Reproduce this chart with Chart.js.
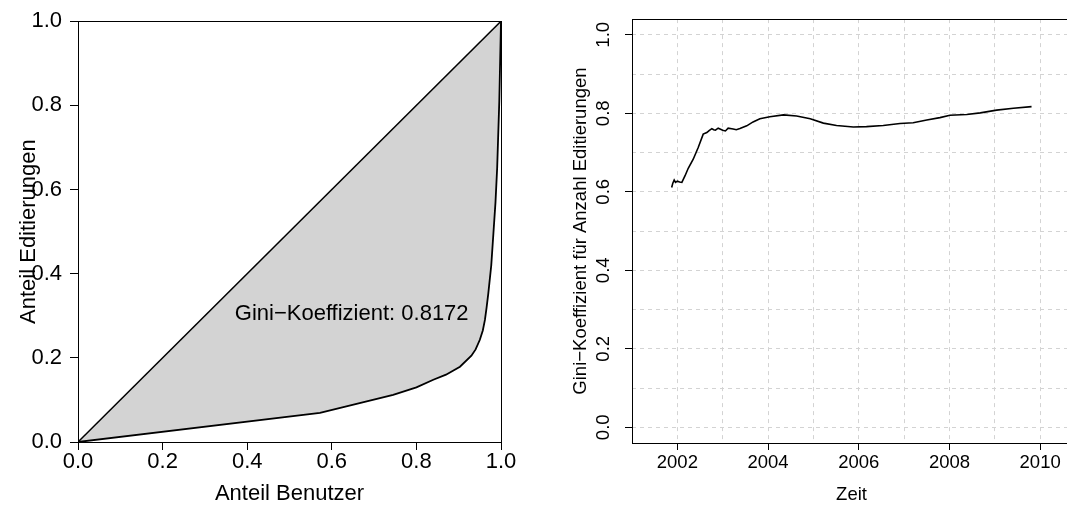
<!DOCTYPE html>
<html>
<head>
<meta charset="utf-8">
<script src="https://cdn.jsdelivr.net/npm/chart.js@4"></script>
<style>
  html, body { margin: 0; padding: 0; background: #fff; overflow: hidden; }
  #wrap { position: relative; width: 1067px; height: 507px; overflow: hidden; }
  #lorenz { position: absolute; left: 0; top: 0; }
  #verlauf { position: absolute; left: 533px; top: 0; }
</style>
</head>
<body>
<div id="wrap">
  <canvas id="lorenz" width="533" height="507"></canvas>
  <canvas id="verlauf" width="560" height="507"></canvas>
</div>
<script>
// Lorenzkurve
const anteilBenutzer = [0, 0.572, 0.745, 0.80, 0.840, 0.87, 0.903, 0.93, 0.94, 0.950, 0.957, 0.962, 0.966, 0.970, 0.977, 0.982, 0.987, 0.991, 0.996, 1.0]
const anteilEditierungen = [0, 0.069, 0.112, 0.130, 0.148, 0.16, 0.179, 0.205, 0.22, 0.243, 0.265, 0.29, 0.32, 0.353, 0.42, 0.495, 0.57, 0.653, 0.811, 1.0]
const gleichverteilung = [0, 1]
const lorenzTicks = [0, 0.2, 0.4, 0.6, 0.8, 1.0]
const giniText = 'Gini\u2212Koeffizient: 0.8172'

// Gini-Koeffizient im Zeitverlauf
const zeit = [2001.875, 2001.90, 2001.93, 2001.96, 2002.00, 2002.05, 2002.10, 2002.17, 2002.24, 2002.35,
  2002.46, 2002.57, 2002.65, 2002.70, 2002.76, 2002.80, 2002.84, 2002.90, 2002.94, 2003.00,
  2003.06, 2003.12, 2003.23, 2003.30, 2003.38, 2003.53, 2003.67, 2003.82, 2004.04, 2004.34,
  2004.63, 2004.93, 2005.22, 2005.51, 2005.88, 2006.17, 2006.54, 2006.91, 2007.20, 2007.50,
  2007.79, 2008.01, 2008.38, 2008.68, 2009.04, 2009.41, 2009.81]
const gini = [0.611, 0.622, 0.630, 0.624, 0.627, 0.625, 0.624, 0.641, 0.660, 0.683,
  0.713, 0.747, 0.751, 0.756, 0.761, 0.758, 0.757, 0.762, 0.760, 0.757,
  0.755, 0.762, 0.760, 0.758, 0.761, 0.768, 0.778, 0.786, 0.791, 0.796,
  0.793, 0.786, 0.775, 0.769, 0.765, 0.766, 0.769, 0.774, 0.776, 0.783,
  0.789, 0.795, 0.797, 0.801, 0.808, 0.813, 0.817]
const zeitGrid = [2002, 2003, 2004, 2005, 2006, 2007, 2008, 2009, 2010]
const zeitLabels = [2002, 2004, 2006, 2008, 2010]
const giniGrid = [0, 0.1, 0.2, 0.3, 0.4, 0.5, 0.6, 0.7, 0.8, 0.9, 1.0]
const giniLabels = [0, 0.2, 0.4, 0.6, 0.8, 1.0]

Chart.defaults.font.family = '"Liberation Sans", Arial, sans-serif'
Chart.defaults.color = '#000'

// box around the plot region, like R's box()
const frame = {
    id: 'frame',
    afterDatasetsDraw(chart) {
        const a = chart.chartArea
        const ctx = chart.ctx
        ctx.save()
        ctx.strokeStyle = '#000'
        ctx.lineWidth = 1
        ctx.strokeRect(Math.round(a.left) + 0.5, Math.round(a.top) + 0.5,
            Math.round(a.right - a.left), Math.round(a.bottom - a.top))
        ctx.restore()
    }
}

const giniLabel = {
    id: 'giniLabel',
    afterDatasetsDraw(chart) {
        const { ctx, scales: { x, y } } = chart
        ctx.save()
        ctx.font = '22px "Liberation Sans", Arial, sans-serif'
        ctx.fillStyle = '#000'
        ctx.textAlign = 'center'
        ctx.textBaseline = 'middle'
        ctx.fillText(giniText, x.getPixelForValue(0.647), y.getPixelForValue(0.305))
        ctx.restore()
    }
}

new Chart(document.getElementById('lorenz'), {
    type: 'line',
    data: {
        datasets: [{
            data: gleichverteilung.map(v => ({ x: v, y: v })),
            borderColor: '#000',
            borderWidth: 1.5,
            pointRadius: 0,
            fill: false
        }, {
            data: anteilBenutzer.map((v, i) => ({ x: v, y: anteilEditierungen[i] })),
            borderColor: '#000',
            borderWidth: 1.8,
            backgroundColor: '#d3d3d3',
            pointRadius: 0,
            fill: 0
        }]
    },
    options: {
        responsive: false,
        animation: false,
        layout: { padding: { left: 0, top: 20, right: 32, bottom: 0 } },
        plugins: { legend: { display: false }, tooltip: { enabled: false } },
        scales: {
            x: {
                type: 'linear', min: 0, max: 1,
                afterBuildTicks: s => { s.ticks = lorenzTicks.map(v => ({ value: v })) },
                afterFit: s => { s.height = 65 },
                ticks: {
                    autoSkip: false, maxRotation: 0, padding: 1,
                    font: { size: 22, lineHeight: 1 },
                    callback: v => v.toFixed(1)
                },
                grid: { drawOnChartArea: false, tickLength: 8, tickColor: '#000' },
                border: { display: false },
                title: { display: true, text: 'Anteil Benutzer', font: { size: 22 }, padding: { top: 0, bottom: 0 } }
            },
            y: {
                type: 'linear', min: 0, max: 1,
                afterBuildTicks: s => { s.ticks = lorenzTicks.map(v => ({ value: v })) },
                afterFit: s => { s.width = 78 },
                ticks: {
                    autoSkip: false, padding: 8,
                    font: { size: 22 },
                    callback: v => v.toFixed(1)
                },
                grid: { drawOnChartArea: false, tickLength: 8, tickColor: '#000' },
                border: { display: false },
                title: { display: true, text: 'Anteil Editierungen', font: { size: 22 }, padding: { top: 16, bottom: 0 } }
            }
        }
    },
    plugins: [frame, giniLabel]
})

new Chart(document.getElementById('verlauf'), {
    type: 'line',
    data: {
        datasets: [{
            data: zeit.map((t, i) => ({ x: t, y: gini[i] })),
            borderColor: '#000',
            borderWidth: 1.6,
            pointRadius: 0,
            fill: false
        }]
    },
    options: {
        responsive: false,
        animation: false,
        layout: { padding: { left: 0, top: 19, right: 22, bottom: 0 } },
        plugins: { legend: { display: false }, tooltip: { enabled: false } },
        scales: {
            x: {
                type: 'linear', min: 2001, max: 2010.68,
                afterBuildTicks: s => { s.ticks = zeitGrid.map(v => ({ value: v })) },
                afterFit: s => { s.height = 64 },
                ticks: {
                    autoSkip: false, maxRotation: 0, padding: 4,
                    font: { size: 18.5, lineHeight: 1 },
                    callback: v => zeitLabels.includes(v) ? String(v) : ''
                },
                grid: {
                    color: '#d3d3d3', lineWidth: 1, tickLength: 7,
                    tickColor: c => (c.tick && zeitLabels.includes(c.tick.value)) ? '#000' : 'rgba(0,0,0,0)'
                },
                border: { display: false, dash: [4, 4] },
                title: { display: true, text: 'Zeit', font: { size: 18.5 }, padding: { top: 0, bottom: 1 } }
            },
            y: {
                type: 'linear', min: -0.04, max: 1.04,
                afterBuildTicks: s => { s.ticks = giniGrid.map(v => ({ value: v })) },
                afterFit: s => { s.width = 99 },
                ticks: {
                    autoSkip: false, minRotation: 90, maxRotation: 90, crossAlign: 'center', padding: 8,
                    font: { size: 18.5 },
                    callback: v => giniLabels.includes(v) ? v.toFixed(1) : ''
                },
                grid: {
                    color: '#d3d3d3', lineWidth: 1, tickLength: 7,
                    tickColor: c => (c.tick && giniLabels.includes(c.tick.value)) ? '#000' : 'rgba(0,0,0,0)'
                },
                border: { display: false, dash: [4, 4] },
                title: {
                    display: true, text: 'Gini\u2212Koeffizient f\u00fcr Anzahl Editierungen',
                    font: { size: 18.5 }, padding: { top: 37, bottom: 0 }
                }
            }
        }
    },
    plugins: [frame]
})
</script>
</body>
</html>
